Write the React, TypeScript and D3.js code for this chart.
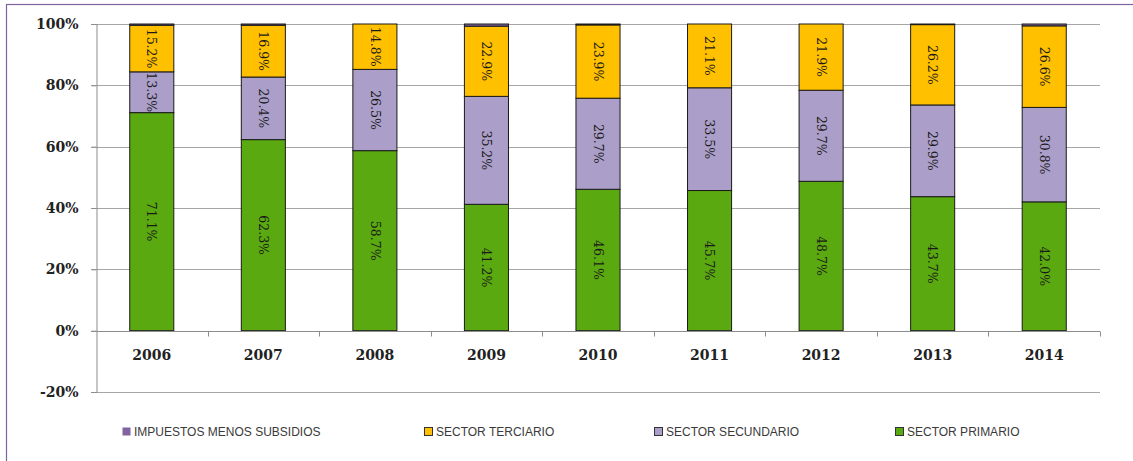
import React, { useRef, useEffect } from 'react';
import * as d3 from 'd3';

const years = ['2006', '2007', '2008', '2009', '2010', '2011', '2012', '2013', '2014'];
const primario = [71.1, 62.3, 58.7, 41.2, 46.1, 45.7, 48.7, 43.7, 42.0];
const secundario = [13.3, 20.4, 26.5, 35.2, 29.7, 33.5, 29.7, 29.9, 30.8];
const terciario = [15.2, 16.9, 14.8, 22.9, 23.9, 21.1, 21.9, 26.2, 26.6];
const impuestos = [0.4, 0.4, 0.0, 0.7, 0.3, 0.0, 0.0, 0.2, 0.6];
const yTicks = [-20, 0, 20, 40, 60, 80, 100];

const seriesKeys = ['primario', 'secundario', 'terciario', 'impuestos'];
const seriesColors: Record<string, string> = {
  primario: '#5aa910',
  secundario: '#ab9fc9',
  terciario: '#ffc000',
  impuestos: '#8064a2',
};

const legendItems = [
  { key: 'impuestos', label: 'IMPUESTOS MENOS SUBSIDIOS', x: 122, border: false },
  { key: 'terciario', label: 'SECTOR TERCIARIO', x: 424, border: true },
  { key: 'secundario', label: 'SECTOR SECUNDARIO', x: 654, border: true },
  { key: 'primario', label: 'SECTOR PRIMARIO', x: 895, border: true },
];

const W = 1133;
const H = 461;

const App: React.FC = () => {
  const svgRef = useRef<SVGSVGElement>(null);

  useEffect(() => {
    if (!svgRef.current) return;
    const svg = d3.select(svgRef.current);
    svg.selectAll('*').remove();

    const left = 96, right = 1100;
    const x = d3.scaleBand<string>().domain(years).range([left, right]).padding(0);
    // the chart stops at 100%, anything stacked past it is cut off
    const y = d3.scaleLinear().domain([-20, 100]).range([392, 24]).clamp(true);
    const barW = x.bandwidth() * 0.395;

    // frame
    svg.append('rect')
      .attr('x', 6.5).attr('y', 4.5)
      .attr('width', W + 10).attr('height', H + 10)
      .attr('fill', 'white')
      .attr('stroke', '#7f63a1').attr('stroke-width', 1.2);

    // gridlines
    svg.append('g').selectAll('line')
      .data(yTicks.filter(t => t !== 0))
      .enter().append('line')
      .attr('x1', left - 5).attr('x2', right)
      .attr('y1', d => Math.round(y(d)) + 0.5).attr('y2', d => Math.round(y(d)) + 0.5)
      .attr('stroke', '#a6a6a6').attr('stroke-width', 1);

    // y axis
    const yAxis = svg.append('g')
      .attr('transform', `translate(${left + 0.5},0)`)
      .call(d3.axisLeft(y).tickValues(yTicks).tickSize(5).tickFormat(d => `${d}%`));
    yAxis.select('.domain').attr('stroke', '#8c8c8c');
    yAxis.selectAll('.tick line').attr('stroke', '#8c8c8c');
    yAxis.selectAll('.tick text')
      .attr('x', -18)
      .attr('font-family', '"DejaVu Serif", serif')
      .attr('font-weight', 'bold')
      .attr('font-size', 14)
      .attr('fill', '#222');

    // stacked bars
    const rows = years.map((yr, i) => ({
      year: yr,
      primario: primario[i],
      secundario: secundario[i],
      terciario: terciario[i],
      impuestos: impuestos[i],
    }));
    const stacked = d3.stack<any>().keys(seriesKeys)(rows);

    const barsG = svg.append('g');
    stacked.forEach(layer => {
      const key = layer.key;
      barsG.append('g').selectAll('rect')
        .data(layer)
        .enter().append('rect')
        .attr('x', d => x(d.data.year)! + (x.bandwidth() - barW) / 2)
        .attr('y', d => y(d[1]))
        .attr('width', barW)
        .attr('height', d => Math.max(0, y(d[0]) - y(d[1])))
        .attr('fill', seriesColors[key])
        .attr('stroke', d => (y(d[0]) - y(d[1]) > 0 ? '#1a1a1a' : 'none'))
        .attr('stroke-width', 1);

      if (key !== 'impuestos') {
        barsG.append('g').selectAll('text')
          .data(layer)
          .enter().append('text')
          .attr('transform', d => {
            const cx = x(d.data.year)! + x.bandwidth() / 2;
            const cy = (y(d[0]) + y(d[1])) / 2;
            return `translate(${cx},${cy}) rotate(90)`;
          })
          .attr('text-anchor', 'middle')
          .attr('dy', '0.35em')
          .attr('font-family', '"DejaVu Serif", serif')
          .attr('font-size', 12.5)
          .attr('fill', '#1a1a1a')
          .text(d => `${(d[1] - d[0]).toFixed(1)}%`);
      }
    });

    // x axis
    const xAxisY = Math.round(y(0)) + 0.5;
    svg.append('line')
      .attr('x1', left - 5).attr('x2', right)
      .attr('y1', xAxisY).attr('y2', xAxisY)
      .attr('stroke', '#8c8c8c');
    svg.append('g').selectAll('line')
      .data(years.map(yr => x(yr)!).concat([right]).slice(1))
      .enter().append('line')
      .attr('x1', d => Math.round(d) + 0.5).attr('x2', d => Math.round(d) + 0.5)
      .attr('y1', xAxisY).attr('y2', xAxisY + 5)
      .attr('stroke', '#8c8c8c');
    svg.append('g').selectAll('text')
      .data(years)
      .enter().append('text')
      .attr('x', d => x(d)! + x.bandwidth() / 2)
      .attr('y', 360)
      .attr('text-anchor', 'middle')
      .attr('font-family', '"DejaVu Serif", serif')
      .attr('font-weight', 'bold')
      .attr('font-size', 14)
      .attr('fill', '#222')
      .text(d => d);

    // legend
    const lg = svg.append('g');
    legendItems.forEach(item => {
      lg.append('rect')
        .attr('x', item.x + 0.5).attr('y', 427.5)
        .attr('width', 8).attr('height', 8)
        .attr('fill', seriesColors[item.key])
        .attr('stroke', item.border ? '#333' : 'none');
      lg.append('text')
        .attr('x', item.x + 12).attr('y', 436)
        .attr('font-family', '"Liberation Sans", Arial, sans-serif')
        .attr('font-size', 12)
        .attr('fill', '#3a3a3a')
        .text(item.label);
    });
  }, []);

  return (
    <svg
      ref={svgRef}
      width={W}
      height={H}
      style={{ position: 'absolute', left: 0, top: 0, display: 'block', background: 'white' }}
    />
  );
};

export default App;
